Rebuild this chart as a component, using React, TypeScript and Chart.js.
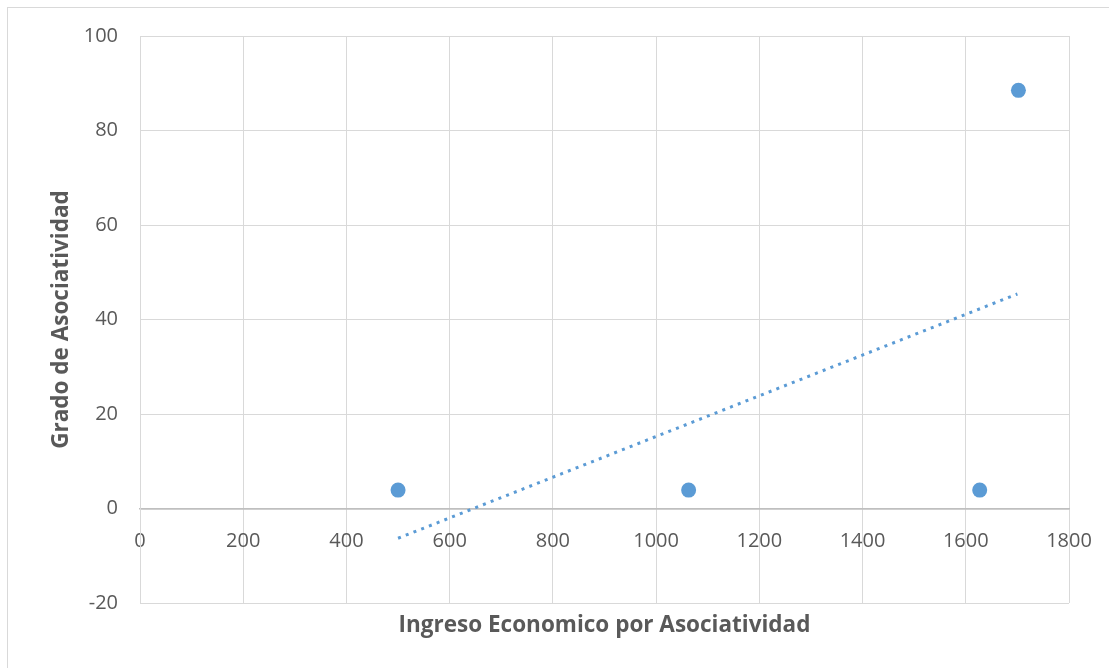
import React, { useEffect, useRef } from "react";
import { Chart, registerables } from "chart.js";

Chart.register(...registerables);

const ingreso: number[] = [500, 1063, 1627, 1702];
const grado: number[] = [3.9, 3.9, 3.9, 88.5];
const trendX: number[] = [500, 1700];
const trendY: number[] = [-6.3, 45.4];
const xTitle = "Ingreso Economico por Asociatividad";
const yTitle = "Grado de Asociatividad";

const FONT = "'Open Sans', 'Liberation Sans', sans-serif";
const BLUE = "#5b9bd5";

const decor = {
  id: "decor",
  afterDraw(chart: any) {
    const ctx = chart.ctx;
    const a = chart.chartArea;
    ctx.save();
    ctx.strokeStyle = "#d9d9d9";
    ctx.lineWidth = 1;
    ctx.strokeRect(7.5, 7.5, 1200, 800);
    ctx.fillStyle = "#595959";
    ctx.font = `bold 22.5px ${FONT}`;
    ctx.textAlign = "center";
    ctx.textBaseline = "middle";
    ctx.fillText(xTitle, (a.left + a.right) / 2, 626);
    ctx.translate(62, (a.top + a.bottom) / 2);
    ctx.rotate(-Math.PI / 2);
    ctx.fillText(yTitle, 0, 0);
    ctx.restore();
  },
};

export default function App() {
  const ref = useRef<HTMLCanvasElement>(null);
  useEffect(() => {
    if (!ref.current) return;
    const chart = new Chart(ref.current, {
      type: "scatter",
      data: {
        datasets: [
          {
            label: "Grado",
            data: ingreso.map((x, i) => ({ x, y: grado[i] })),
            backgroundColor: BLUE,
            borderColor: BLUE,
            pointRadius: 7.5,
            pointBorderWidth: 0,
            showLine: false,
            order: 1,
          },
          {
            label: "Tendencia",
            data: trendX.map((x, i) => ({ x, y: trendY[i] })),
            borderColor: BLUE,
            backgroundColor: BLUE,
            borderWidth: 3,
            borderDash: [3, 5.3],
            pointRadius: 0,
            showLine: true,
            order: 2,
          },
        ],
      },
      options: {
        responsive: false,
        animation: false,
        layout: { padding: { left: 0, top: 36, right: 40, bottom: 65 } },
        plugins: { legend: { display: false }, tooltip: { enabled: false } },
        scales: {
          x: {
            type: "linear",
            position: { y: 0 } as any,
            min: 0,
            max: 1800,
            afterFit: (s: any) => {
              s.paddingLeft = 0;
              s.paddingRight = 0;
            },
            ticks: {
              stepSize: 200,
              padding: 21,
              color: "#595959",
              font: { family: FONT, size: 20 },
              callback: (v: any) => String(v),
            },
            grid: {
              color: "#d9d9d9",
              lineWidth: 1,
              drawTicks: false,
            },
            border: { display: true, color: "#bfbfbf", width: 1.5 },
          },
          y: {
            type: "linear",
            position: "left",
            min: -20,
            max: 100,
            afterFit: (s: any) => {
              s.width = 140;
            },
            ticks: {
              stepSize: 20,
              padding: 22,
              color: "#595959",
              font: { family: FONT, size: 20 },
              callback: (v: any) => String(v),
            },
            grid: {
              color: (c: any) => (c.tick && c.tick.value === 0 ? "#bfbfbf" : "#d9d9d9"),
              lineWidth: (c: any) => (c.tick && c.tick.value === 0 ? 1.5 : 1),
              drawTicks: false,
            },
            border: { display: true, color: "#d9d9d9", width: 1 },
          },
        },
      },
      plugins: [decor],
    });
    return () => chart.destroy();
  }, []);
  return (
    <canvas
      ref={ref}
      width={1109}
      height={668}
      style={{ position: "fixed", left: 0, top: 0, width: 1109, height: 668, background: "#fff" }}
    />
  );
}
